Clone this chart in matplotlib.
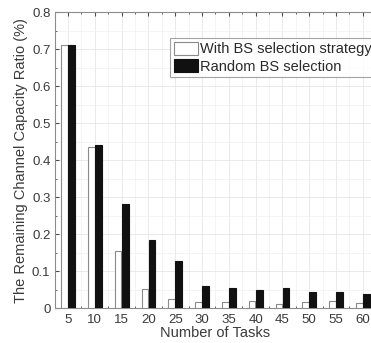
import numpy as np
import matplotlib.pyplot as plt
from matplotlib.ticker import MultipleLocator

plt.rcParams['font.family'] = ['Liberation Sans', 'DejaVu Sans']

# data
tasks = [5, 10, 15, 20, 25, 30, 35, 40, 45, 50, 55, 60]
with_bs = [0.713, 0.435, 0.155, 0.051, 0.025, 0.018, 0.016, 0.020, 0.012, 0.017, 0.020, 0.014]
random_bs = [0.713, 0.442, 0.281, 0.186, 0.128, 0.060, 0.055, 0.050, 0.055, 0.045, 0.043, 0.040]
labels = ["With BS selection strategy", "Random BS selection"]

fig = plt.figure(figsize=(3.71, 3.43), dpi=100)
# axes runs past the right edge, as in the cropped reference
ax = fig.add_axes([0.1472, 0.101, 0.867, 0.863])

x = np.array(tasks, dtype=float)
w = 1.25
ax.bar(x - 0.66, with_bs, width=w, color="white", edgecolor="#8a8a8a", linewidth=0.8, label=labels[0], zorder=3)
ax.bar(x + 0.66, random_bs, width=w, color="#111111", edgecolor="#111111", linewidth=0.8, label=labels[1], zorder=3)

ax.set_xlim(2.5, 62.5)
ax.set_ylim(0, 0.8)
ax.set_xticks(tasks)
ax.xaxis.set_minor_locator(MultipleLocator(2.5))
ax.set_yticks(np.arange(0, 0.81, 0.1))
ax.set_yticklabels(["0"] + ["%.1f" % v for v in np.arange(0.1, 0.81, 0.1)])
ax.yaxis.set_minor_locator(MultipleLocator(0.05))

ax.grid(True, which="major", color="#e6e6e6", linewidth=0.6, zorder=0)
ax.grid(True, which="minor", color="#f0f0f0", linewidth=0.5, zorder=0)

ax.tick_params(which="both", direction="in", top=True, right=True, colors="#4d4d4d",
               labelsize=9.5, labelcolor="#3a3a3a")
ax.tick_params(which="major", length=3)
ax.tick_params(which="minor", length=1.5)
ax.tick_params(axis="x", pad=4)
ax.tick_params(axis="y", pad=3)
for s in ax.spines.values():
    s.set_color("#8c8c8c")
    s.set_linewidth(0.8)

ax.set_xlabel("Number of Tasks", fontsize=10.5, color="#3a3a3a", labelpad=0)
ax.set_ylabel("The Remaining Channel Capacity Ratio (%)", fontsize=10.5, color="#3a3a3a", labelpad=3)

leg = ax.legend(loc="upper left", bbox_to_anchor=(170 / 371, 1 - 38 / 343),
                bbox_transform=fig.transFigure, fontsize=10.5, frameon=True, fancybox=False,
                borderpad=0.25, handlelength=1.65, handleheight=1.0, handletextpad=0.15,
                labelspacing=0.2, borderaxespad=0)
leg.get_frame().set_edgecolor("#8c8c8c")
leg.get_frame().set_linewidth(0.8)
for t in leg.get_texts():
    t.set_color("#2a2a2a")

fig.savefig("out.png", dpi=100)
